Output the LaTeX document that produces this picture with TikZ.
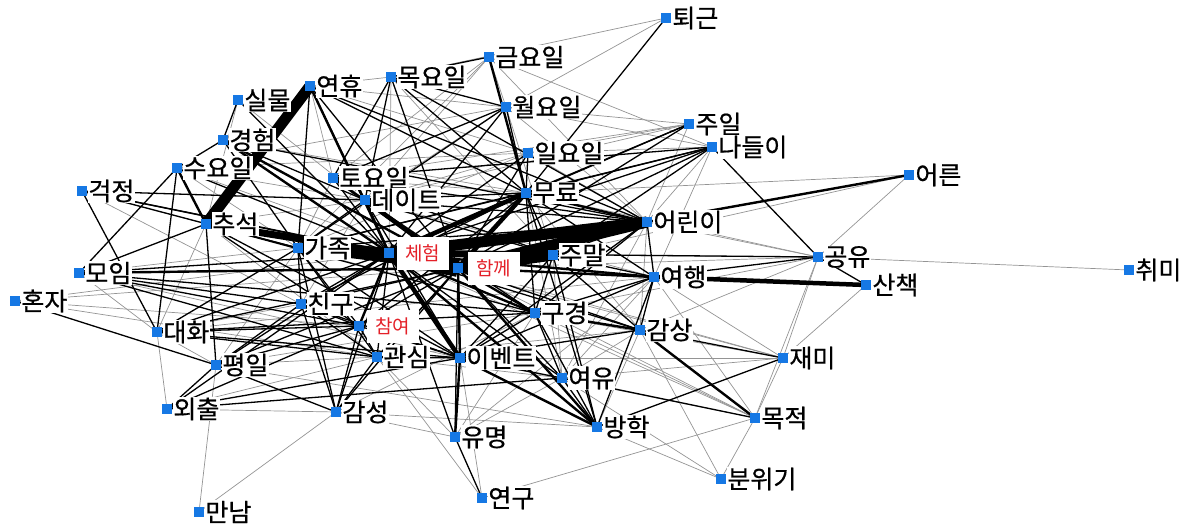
\documentclass[tikz,border=0pt]{standalone}
\usepackage{fontspec}
\newfontfamily\kr{Noto Sans CJK KR}[FakeBold=0.6]
\newfontfamily\krr{Noto Sans CJK KR}
\usetikzlibrary{backgrounds}
\definecolor{nodeblue}{RGB}{22,120,228}
\definecolor{labred}{RGB}{228,32,40}
\newcommand\mynode[4]{\node[sq,label={[lab]right:#4}] (#1) at (#2,#3) {};}
\begin{document}
\begin{tikzpicture}[x=1pt,y=-1pt,
  sq/.style={fill=nodeblue,minimum size=10pt,inner sep=0pt,draw=none},
  lab/.style={font=\kr\fontsize{25}{25}\selectfont,inner sep=0.5pt,text=black,fill=white},
  redlab/.style={font=\krr\fontsize{19}{19}\selectfont,text=labred,fill=white,minimum width=52pt,minimum height=33pt,inner sep=0pt,xshift=2pt},
  label distance=0.5pt,
  eg/.style={draw=black!42,line width=0.7pt},
  eb/.style={draw=black,line width=1.3pt},
  ec/.style={draw=black,line width=2.4pt},
  ed/.style={draw=black,line width=4.5pt},
  ee/.style={draw=black,line width=7pt},
  ef/.style={draw=black,line width=11pt},
  eh/.style={draw=black,line width=18pt}]
\useasboundingbox (0,0) rectangle (1193,524);
\mynode{tg}{666}{18}{퇴근}
\mynode{gm}{489}{57}{금요일}
\mynode{yh}{310}{86}{연휴}
\mynode{mk}{391}{77}{목요일}
\mynode{sm}{238}{100}{실물}
\mynode{wy}{506}{107}{월요일}
\mynode{gh}{223}{140}{경험}
\mynode{ji}{689}{124}{주일}
\mynode{nd}{712}{147}{나들이}
\mynode{iy}{528}{153}{일요일}
\mynode{sy}{177}{168}{수요일}
\mynode{ty}{333}{178}{토요일}
\mynode{er}{909}{175}{어른}
\mynode{gj}{82}{191}{걱정}
\mynode{mr}{526}{193}{무료}
\mynode{dt}{365}{200}{데이트}
\mynode{cs}{206}{224}{추석}
\mynode{ar}{647}{222}{어린이}
\mynode{gz}{298}{248}{가족}
\node[sq,label={[redlab]right:체험}] (ch) at (389,253) {};
\node[sq,label={[redlab,xshift=2pt]right:함께}] (hk) at (458,268) {};
\mynode{jm}{553}{255}{주말}
\mynode{gy}{818}{257}{공유}
\mynode{cm}{1129}{270}{취미}
\mynode{mi}{79}{273}{모임}
\mynode{yg}{654}{277}{여행}
\mynode{sc}{866}{285}{산책}
\mynode{hj}{15}{301}{혼자}
\mynode{cg}{301}{304}{친구}
\mynode{gk}{535}{313}{구경}
\node[sq,label={[redlab]right:참여}] (cy) at (359,326) {};
\mynode{dh}{157}{332}{대화}
\mynode{gs}{640}{330}{감상}
\mynode{gsim}{377}{357}{관심}
\mynode{ev}{460}{358}{이벤트}
\mynode{py}{216}{365}{평일}
\mynode{jmi}{783}{358}{재미}
\mynode{yy}{562}{378}{여유}
\mynode{oc}{167}{409}{외출}
\mynode{gsg}{336}{412}{감성}
\mynode{mj}{755}{418}{목적}
\mynode{bh}{597}{427}{방학}
\mynode{ym}{455}{437}{유명}
\mynode{bw}{721}{479}{분위기}
\mynode{yk}{482}{498}{연구}
\mynode{mn}{199}{512}{만남}
\begin{pgfonlayer}{background}
\foreach \a/\b in {tg/mk,tg/wy,gm/dt,gm/ty,gm/gz,gm/ar,gm/nd,gm/wy,yh/mk,yh/wy,yh/ty,yh/iy,mk/ch,mk/jm,sm/dt,sm/cs,wy/dt,wy/ar,wy/ji,wy/nd,wy/sy,wy/jm,gh/mr,ji/dt,ji/ty,ji/ar,ji/iy,nd/ar,nd/yg,nd/iy,iy/dt,iy/gz,iy/ar,iy/sy,sy/gz,sy/dt,sy/hk,ty/mr,ty/gz,er/jm,er/gy,er/mr,gj/cs,gj/cg,mr/gs,mr/yy,mr/gy,dt/yg,dt/cg,cs/dh,cs/gsim,cs/dt,ar/gy,ar/gs,ar/yy,gz/mi,gz/py,gz/gk,ch/jmi,ch/mj,ch/hj,hk/sc,hk/jmi,hk/mj,hk/hj,jm/yy,gy/cm,gy/gs,gy/jmi,gy/mj,gy/gk,gy/hk,gy/jm,mi/ev,mi/dh,yg/jmi,yg/mj,yg/ym,yg/yy,sc/jmi,hj/cy,hj/gsim,cg/dh,gk/jmi,gk/mj,gk/ym,dh/py,dh/yg,gs/bh,gs/yy,gs/bw,gs/gsim,gsim/ym,gsim/yk,gsim/py,gsim/oc,gsim/yy,ev/jmi,ev/yk,ev/mj,py/mn,py/bh,jmi/mj,jmi/yy,yy/ym,yy/bw,oc/gsg,gsg/mn,gsg/bh,gsg/ym,mj/yk,mj/bw,bh/bw,oc/dh,py/gk,gsg/gk}
  \draw[eg] (\a.center) -- (\b.center);
\foreach \a/\b in {tg/mr,gm/mk,yh/gz,yh/dt,yh/mr,yh/ar,yh/hk,mk/wy,mk/ty,mk/dt,mk/mr,mk/ar,mk/hk,sm/ch,sm/gh,wy/mr,wy/ty,wy/gz,wy/ch,gh/sy,gh/ar,gh/dt,gh/gz,ji/mr,ji/ch,ji/hk,nd/gy,nd/ty,nd/mr,nd/ch,nd/hk,nd/jm,nd/gz,iy/mr,iy/ch,iy/hk,sy/dh,sy/mi,sy/ch,ty/dt,ty/ch,ty/ar,ty/jm,gj/dt,gj/ch,gj/hk,gj/gz,gj/dh,mr/jm,mr/gk,mr/gz,mr/dt,mr/yg,mr/gsim,mr/cy,mr/cg,mr/bh,dt/jm,dt/ar,dt/gz,dt/gk,dt/ev,cs/gz,cs/mi,cs/py,cs/gk,cs/cy,cs/ev,ar/jm,ar/yg,ar/gk,ar/ev,ar/gz,gz/cg,gz/dh,gz/cy,gz/gsim,gz/ev,gz/gsg,gz/jm,ch/cg,ch/gsim,ch/gs,ch/yy,ch/ym,ch/mi,ch/dh,ch/py,ch/oc,ch/gsg,ch/gy,hk/cy,hk/gsim,hk/gs,hk/yy,hk/ym,hk/cg,hk/dh,hk/py,hk/gsg,jm/yg,jm/gk,jm/gs,jm/ev,jm/bh,gy/sc,gy/yg,mi/cg,mi/cy,mi/gsim,mi/gk,yg/gs,yg/bh,yg/gk,yg/ev,hj/py,cg/cy,cg/gsim,cg/ev,cg/py,cg/gsg,gk/ev,gk/yy,gk/bh,cy/gsim,cy/ev,cy/gsg,cy/py,cy/oc,cy/dh,dh/gsim,dh/ev,dh/gk,gs/jmi,gs/ev,gsim/ev,gsim/gsg,ev/yy,py/oc,py/gsg,jmi/bh,yy/bh,yy/mj,yy/oc,oc/ev,ym/yk}
  \draw[eb] (\a.center) -- (\b.center);
\foreach \a/\b in {gm/mr,er/ar,gh/ch,mr/ar,ch/cy,ch/gk,ch/yg,ch/bh,hk/gk,hk/yg,hk/ev,hk/bh,ev/ym,ev/bh,gs/mj,sy/cs,gk/gs,mi/hk,dt/ch,gh/hk,yh/ch,ty/hk}
  \draw[ec] (\a.center) -- (\b.center);
\foreach \a/\b in {mr/ch,mr/hk,dt/hk,ch/ev,yg/sc}
  \draw[ed] (\a.center) -- (\b.center);
\foreach \a/\b in {cs/ch,ch/jm,gz/hk}
  \draw[ee] (\a.center) -- (\b.center);
\foreach \a/\b in {yh/cs,ar/ch,ar/hk,gz/ch,hk/jm}
  \draw[ef] (\a.center) -- (\b.center);
\draw[eh] (ch.center) -- (hk.center);
\end{pgfonlayer}
\end{tikzpicture}
\end{document}
